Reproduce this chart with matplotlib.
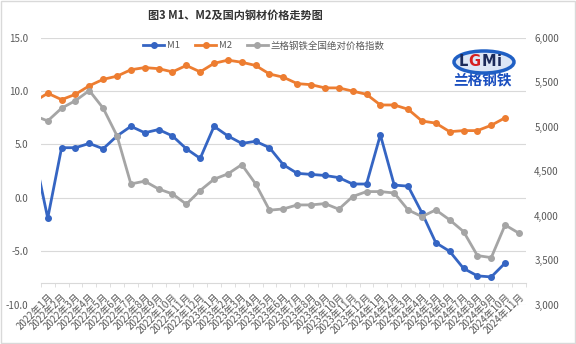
import matplotlib
matplotlib.use("Agg")
import matplotlib.pyplot as plt
from matplotlib.patches import Ellipse, Rectangle
import numpy as np

plt.rcParams["font.family"] = ["Noto Sans CJK SC", "DejaVu Sans"]
plt.rcParams["axes.unicode_minus"] = False

# months shown on the axis: 2022年1月 .. 2024年11月
months = [
    "2022年1月", "2022年2月", "2022年3月", "2022年4月", "2022年5月", "2022年6月",
    "2022年7月", "2022年8月", "2022年9月", "2022年10月", "2022年11月", "2022年12月",
    "2023年1月", "2023年2月", "2023年3月", "2023年4月", "2023年5月", "2023年6月",
    "2023年7月", "2023年8月", "2023年9月", "2023年10月", "2023年11月", "2023年12月",
    "2024年1月", "2024年2月", "2024年3月", "2024年4月", "2024年5月", "2024年6月",
    "2024年7月", "2024年8月", "2024年9月", "2024年10月", "2024年11月",
]

# series start one month earlier (2021年12月), that point sits outside the plot
m1 = [4.3, -1.9, 4.7, 4.7, 5.1, 4.6, 5.8, 6.7, 6.1, 6.4, 5.8, 4.6, 3.7,
      6.7, 5.8, 5.1, 5.3, 4.7, 3.1, 2.3, 2.2, 2.1, 1.9, 1.3, 1.3,
      5.9, 1.2, 1.1, -1.4, -4.2, -5.0, -6.6, -7.3, -7.4, -6.1]
m2 = [9.0, 9.8, 9.2, 9.7, 10.5, 11.1, 11.4, 12.0, 12.2, 12.1, 11.8, 12.4, 11.8,
      12.6, 12.9, 12.7, 12.4, 11.6, 11.3, 10.7, 10.6, 10.3, 10.3, 10.0, 9.7,
      8.7, 8.7, 8.3, 7.2, 7.0, 6.2, 6.3, 6.3, 6.8, 7.5]
price_index = [5125, 5065, 5208, 5293, 5406, 5208, 4897, 4357, 4388, 4300, 4245, 4129, 4283,
               4410, 4470, 4574, 4357, 4062, 4076, 4121, 4121, 4136, 4073, 4215, 4271,
               4271, 4255, 4065, 3990, 4065, 3953, 3822, 3552, 3529, 3896, 3803]

W, H = 576, 344


def fx(px):
    return px / W


def fy(py):
    return 1 - py / H


fig = plt.figure(figsize=(5.76, 3.44), dpi=100)
fig.patches.append(Rectangle((0.001, 0.002), 0.997, 0.995, transform=fig.transFigure,
                             fill=False, edgecolor="#d9d9d9", lw=1.0))

ax = fig.add_axes([fx(40.8), fy(304.7), fx(525.9 - 40.8), (304.7 - 37.7) / H])
ax2 = ax.twinx()

x_m = np.arange(-1, len(m1) - 1)
x_p = np.arange(-1, len(price_index) - 1)

l1, = ax.plot(x_m, m1, color="#3565C3", lw=2.0, marker="o", ms=4, label="M1", zorder=3)
l2, = ax.plot(x_m, m2, color="#ED7D31", lw=2.0, marker="o", ms=4, label="M2", zorder=3)
l3, = ax2.plot(x_p, price_index, color="#A5A5A5", lw=2.0, marker="o", ms=4,
               label="兰格钢铁全国绝对价格指数", zorder=3)

ax.set_xlim(-0.5, len(months) - 0.5)
ax.set_ylim(-10, 15)
ax2.set_ylim(3000, 6000)

ax.set_yticks(np.arange(-10, 16, 5))
ax.set_yticklabels([f"{v:.1f}" for v in np.arange(-10, 16, 5)])
ax2.set_yticks(np.arange(3000, 6001, 500))
ax2.set_yticklabels([f"{v:,}" for v in np.arange(3000, 6001, 500)])

ax.yaxis.grid(True, color="#d9d9d9", lw=0.8)
ax.set_axisbelow(True)

for s in ["top", "left", "right"]:
    ax.spines[s].set_visible(False)
for s in ax2.spines.values():
    s.set_visible(False)
ax.spines["bottom"].set_position(("data", -8))
ax.spines["bottom"].set_color("#d9d9d9")

ax.set_xticks(np.arange(len(months)))
ax.set_xticklabels(months, rotation=45, ha="right", va="top", rotation_mode="anchor")
ax.set_xticks(np.arange(-0.5, len(months), 1), minor=True)
ax.tick_params(axis="x", which="major", length=0, pad=6, labelsize=7, labelcolor="#595959")
ax.tick_params(axis="x", which="minor", length=3, color="#d9d9d9")
ax.tick_params(axis="y", length=0, pad=9, labelsize=7, labelcolor="#595959")
ax2.tick_params(axis="y", length=0, pad=6, labelsize=7, labelcolor="#595959")

fig.text(fx(235), fy(15), "图3 M1、M2及国内钢材价格走势图", ha="center", va="center",
         fontsize=8, fontweight="bold", color="#333333")

fig.legend([l1, l2, l3], [l1.get_label(), l2.get_label(), l3.get_label()],
           loc="center", bbox_to_anchor=(fx(264), fy(45.7)), ncol=3, frameon=False,
           fontsize=6.8, handlelength=2.2, columnspacing=1.6, handletextpad=0.3,
           labelcolor="#595959")

# logo
fig.patches.append(Ellipse((fx(484), fy(62)), 60 / W, 22 / H, transform=fig.transFigure,
                           facecolor="#dce6f6", edgecolor="#1f5fc4", lw=2.5, zorder=5))
for ch, px, col in [("L", 463, "#1b2a5a"), ("G", 474.5, "#d62020"),
                    ("M", 488.5, "#1b2a5a"), ("i", 499.5, "#1b2a5a")]:
    fig.text(fx(px), fy(61.5), ch, ha="center", va="center", fontsize=10.5,
             fontweight="bold", color=col, family="DejaVu Sans", zorder=6)
fig.text(fx(482), fy(80.5), "兰格钢铁", ha="center", va="center", fontsize=10.5,
         fontweight="bold", color="#1a4fc0")

fig.savefig("out.png", dpi=100)
